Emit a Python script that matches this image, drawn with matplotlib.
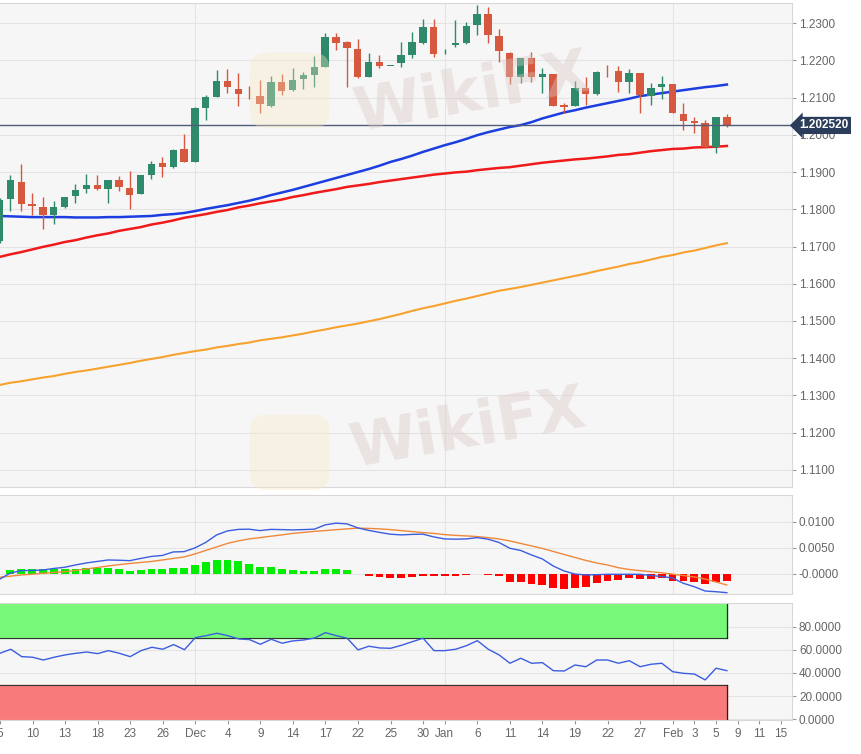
import matplotlib
matplotlib.use("Agg")
import matplotlib.pyplot as plt
import matplotlib.transforms as mtransforms
from matplotlib.patches import FancyBboxPatch
import numpy as np
import pandas as pd

plt.rcParams['font.family'] = ['Liberation Sans', 'DejaVu Sans']

# trading days shown on the axis (last candle is Feb 8)
days = pd.bdate_range("2020-11-05", "2021-02-15")

opens = [1.1715, 1.1828, 1.1873, 1.1813, 1.1806, 1.1785, 1.1806, 1.1836, 1.1854, 1.1865,
         1.1854, 1.1879, 1.1857, 1.1841, 1.1892, 1.1924, 1.1913, 1.1962, 1.1927, 1.2072,
         1.2101, 1.2144, 1.2123, 1.2108, 1.2104, 1.2077, 1.2142, 1.2120, 1.2150, 1.2160,
         1.2182, 1.2262, 1.2249, 1.2230, 1.2155, 1.2195, 1.2185, 1.2193, 1.2214, 1.2246,
         1.2289, 1.2217, 1.2241, 1.2246, 1.2295, 1.2324, 1.2265, 1.2219, 1.2155, 1.2206,
         1.2155, 1.2163, 1.2080, 1.2077, 1.2126, 1.2109, 1.2167, 1.2171, 1.2142, 1.2166,
         1.2104, 1.2128, 1.2136, 1.2056, 1.2037, 1.2032, 1.1967, 1.2048]
highs = [1.1830, 1.1892, 1.1921, 1.1844, 1.1833, 1.1822, 1.1833, 1.1868, 1.1895, 1.1892,
         1.1879, 1.1889, 1.1903, 1.1892, 1.1930, 1.1940, 1.1962, 1.2002, 1.2075, 1.2107,
         1.2174, 1.2177, 1.2166, 1.2131, 1.2147, 1.2158, 1.2163, 1.2179, 1.2168, 1.2211,
         1.2273, 1.2273, 1.2252, 1.2257, 1.2219, 1.2214, 1.2186, 1.2249, 1.2276, 1.2311,
         1.2311, 1.2230, 1.2308, 1.2303, 1.2348, 1.2343, 1.2284, 1.2222, 1.2206, 1.2222,
         1.2179, 1.2163, 1.2085, 1.2144, 1.2155, 1.2171, 1.2187, 1.2185, 1.2177, 1.2166,
         1.2139, 1.2158, 1.2136, 1.2085, 1.2048, 1.2040, 1.2048, 1.2056]
lows = [1.1710, 1.1795, 1.1795, 1.1785, 1.1747, 1.1760, 1.1803, 1.1817, 1.1844, 1.1852,
        1.1817, 1.1849, 1.1801, 1.1841, 1.1881, 1.1887, 1.1911, 1.1927, 1.1927, 1.2040,
        1.2101, 1.2112, 1.2077, 1.2096, 1.2058, 1.2075, 1.2107, 1.2117, 1.2123, 1.2128,
        1.2182, 1.2228, 1.2128, 1.2152, 1.2155, 1.2179, 1.2184, 1.2182, 1.2206, 1.2244,
        1.2209, 1.2216, 1.2236, 1.2244, 1.2268, 1.2246, 1.2195, 1.2136, 1.2139, 1.2142,
        1.2112, 1.2077, 1.2058, 1.2077, 1.2080, 1.2107, 1.2155, 1.2115, 1.2112, 1.2058,
        1.2080, 1.2096, 1.2058, 1.2013, 1.2005, 1.1964, 1.1951, 1.2021]
closes = [1.1825, 1.1879, 1.1814, 1.1810, 1.1785, 1.1806, 1.1833, 1.1852, 1.1865, 1.1854,
          1.1879, 1.1860, 1.1838, 1.1892, 1.1921, 1.1913, 1.1959, 1.1927, 1.2072, 1.2101,
          1.2144, 1.2128, 1.2109, 1.2106, 1.2083, 1.2142, 1.2117, 1.2147, 1.2160, 1.2182,
          1.2262, 1.2246, 1.2233, 1.2155, 1.2195, 1.2185, 1.2186, 1.2214, 1.2249, 1.2289,
          1.2217, 1.2218, 1.2246, 1.2292, 1.2324, 1.2268, 1.2225, 1.2155, 1.2206, 1.2155,
          1.2163, 1.2077, 1.2075, 1.2126, 1.2109, 1.2168, 1.2165, 1.2142, 1.2166, 1.2107,
          1.2126, 1.2136, 1.2058, 1.2037, 1.2032, 1.1967, 1.2048, 1.20252]

sma_blue = [1.1782, 1.1781, 1.1780, 1.1779, 1.1779, 1.1779, 1.1779, 1.1778, 1.1778, 1.1778,
            1.1779, 1.1779, 1.1780, 1.1781, 1.1782, 1.1785, 1.1787, 1.1790, 1.1795, 1.1801,
            1.1806, 1.1811, 1.1817, 1.1823, 1.1830, 1.1838, 1.1845, 1.1852, 1.1860, 1.1868,
            1.1876, 1.1884, 1.1892, 1.1900, 1.1908, 1.1917, 1.1927, 1.1935, 1.1944, 1.1954,
            1.1963, 1.1972, 1.1980, 1.1989, 1.1999, 1.2007, 1.2014, 1.2021, 1.2026, 1.2034,
            1.2044, 1.2052, 1.2060, 1.2066, 1.2073, 1.2079, 1.2085, 1.2091, 1.2097, 1.2104,
            1.2108, 1.2112, 1.2116, 1.2120, 1.2124, 1.2128, 1.2131, 1.2135]
sma_red = [1.1672, 1.1679, 1.1685, 1.1692, 1.1699, 1.1705, 1.1712, 1.1717, 1.1724, 1.1730,
           1.1735, 1.1742, 1.1747, 1.1752, 1.1759, 1.1764, 1.1770, 1.1777, 1.1782, 1.1787,
           1.1793, 1.1798, 1.1805, 1.1810, 1.1816, 1.1821, 1.1826, 1.1833, 1.1838, 1.1844,
           1.1849, 1.1854, 1.1860, 1.1864, 1.1868, 1.1873, 1.1877, 1.1881, 1.1885, 1.1889,
           1.1893, 1.1896, 1.1899, 1.1901, 1.1905, 1.1908, 1.1911, 1.1913, 1.1917, 1.1921,
           1.1925, 1.1928, 1.1931, 1.1934, 1.1936, 1.1939, 1.1942, 1.1946, 1.1948, 1.1952,
           1.1956, 1.1959, 1.1962, 1.1963, 1.1966, 1.1967, 1.1968, 1.1970]
sma_orange = [1.1328, 1.1334, 1.1338, 1.1343, 1.1348, 1.1352, 1.1358, 1.1363, 1.1367, 1.1372,
              1.1377, 1.1382, 1.1387, 1.1393, 1.1398, 1.1403, 1.1409, 1.1414, 1.1419, 1.1423,
              1.1429, 1.1433, 1.1438, 1.1442, 1.1448, 1.1452, 1.1456, 1.1461, 1.1466, 1.1472,
              1.1477, 1.1483, 1.1488, 1.1493, 1.1499, 1.1505, 1.1512, 1.1519, 1.1527, 1.1534,
              1.1540, 1.1547, 1.1554, 1.1560, 1.1567, 1.1574, 1.1581, 1.1586, 1.1591, 1.1597,
              1.1603, 1.1609, 1.1615, 1.1621, 1.1627, 1.1634, 1.1640, 1.1646, 1.1653, 1.1658,
              1.1665, 1.1672, 1.1677, 1.1684, 1.1689, 1.1696, 1.1703, 1.1709]

macd = [-0.00108, 0.00013, 0.00058, 0.00062, 0.00071, 0.00100, 0.00123, 0.00167, 0.00206, 0.00235,
        0.00263, 0.00258, 0.00250, 0.00292, 0.00331, 0.00350, 0.00417, 0.00423, 0.00494, 0.00600,
        0.00744, 0.00821, 0.00850, 0.00854, 0.00827, 0.00850, 0.00846, 0.00840, 0.00846, 0.00854,
        0.00937, 0.00969, 0.00956, 0.00879, 0.00831, 0.00792, 0.00758, 0.00744, 0.00754, 0.00758,
        0.00706, 0.00667, 0.00662, 0.00667, 0.00692, 0.00662, 0.00600, 0.00488, 0.00446, 0.00360,
        0.00283, 0.00148, 0.00052, -0.00006, -0.00025, -0.00019, -0.00012, -0.00012, -0.00012, -0.00012,
        -0.00035, -0.00054, -0.00083, -0.00185, -0.00250, -0.00333, -0.00346, -0.00365]
signal = [-0.00069, -0.00048, -0.00025, -0.00010, 0.00008, 0.00023, 0.00038, 0.00062, 0.00090, 0.00119,
          0.00148, 0.00173, 0.00196, 0.00215, 0.00235, 0.00263, 0.00292, 0.00321, 0.00379, 0.00446,
          0.00513, 0.00581, 0.00629, 0.00667, 0.00692, 0.00719, 0.00744, 0.00773, 0.00792, 0.00812,
          0.00827, 0.00844, 0.00860, 0.00873, 0.00869, 0.00860, 0.00846, 0.00827, 0.00808, 0.00788,
          0.00773, 0.00750, 0.00735, 0.00725, 0.00712, 0.00692, 0.00667, 0.00629, 0.00581, 0.00533,
          0.00485, 0.00427, 0.00369, 0.00312, 0.00254, 0.00206, 0.00167, 0.00115, 0.00081, 0.00058,
          0.00038, 0.00017, -0.00010, -0.00035, -0.00063, -0.00102, -0.00160, -0.00217]
hist = [-0.00010, 0.00071, 0.00090, 0.00096, 0.00083, 0.00083, 0.00083, 0.00090, 0.00103, 0.00109,
        0.00103, 0.00083, 0.00058, 0.00071, 0.00090, 0.00090, 0.00109, 0.00103, 0.00167, 0.00218,
        0.00263, 0.00269, 0.00237, 0.00186, 0.00135, 0.00122, 0.00090, 0.00077, 0.00058, 0.00058,
        0.00090, 0.00096, 0.00077, 0.00003, -0.00038, -0.00064, -0.00090, -0.00090, -0.00064, -0.00038,
        -0.00040, -0.00050, -0.00050, -0.00030, -0.00010, -0.00020, -0.00050, -0.00154, -0.00167, -0.00205,
        -0.00218, -0.00269, -0.00301, -0.00282, -0.00250, -0.00186, -0.00135, -0.00122, -0.00090, -0.00103,
        -0.00096, -0.00077, -0.00135, -0.00141, -0.00154, -0.00199, -0.00160, -0.00135]

rsi = [57.0, 60.5, 54.1, 53.6, 51.2, 53.6, 55.6, 57.0, 58.1, 56.7,
       59.3, 57.0, 54.1, 59.3, 62.2, 60.5, 64.5, 60.1, 70.5, 72.2,
       74.3, 72.2, 69.4, 68.8, 64.8, 69.1, 65.7, 67.7, 68.5, 70.2,
       74.8, 72.2, 70.0, 59.9, 63.1, 61.6, 61.3, 63.9, 67.0, 70.0,
       59.3, 59.3, 60.5, 63.6, 67.9, 60.5, 55.6, 48.4, 52.7, 48.4,
       48.9, 42.0, 41.7, 46.9, 45.4, 51.2, 51.2, 48.4, 50.6, 45.4,
       47.5, 48.4, 41.1, 39.7, 39.1, 34.0, 44.1, 42.0]

tick_dates = ["2020-11-05", "2020-11-10", "2020-11-13", "2020-11-18", "2020-11-23", "2020-11-26",
              "2020-12-01", "2020-12-04", "2020-12-09", "2020-12-14", "2020-12-17", "2020-12-22",
              "2020-12-25", "2020-12-30", "2021-01-01", "2021-01-06", "2021-01-11", "2021-01-14",
              "2021-01-19", "2021-01-22", "2021-01-27", "2021-02-01", "2021-02-03", "2021-02-05",
              "2021-02-09", "2021-02-11", "2021-02-15"]
tick_labels = ["5", "10", "13", "18", "23", "26", "Dec", "4", "9", "14", "17", "22", "25", "30",
               "Jan", "6", "11", "14", "19", "22", "27", "Feb", "3", "5", "9", "11", "15"]
month_starts = ["2020-12-01", "2021-01-01", "2021-02-01"]

price_ticks = [1.11, 1.12, 1.13, 1.14, 1.15, 1.16, 1.17, 1.18, 1.19, 1.20, 1.21, 1.22, 1.23]
macd_ticks = [0.0, 0.005, 0.01]
macd_labels = ["-0.0000", "0.0050", "0.0100"]
rsi_ticks = [0, 20, 40, 60, 80]

last_price = closes[-1]

# ---------------------------------------------------------------
x = np.arange(len(closes))
o = np.array(opens); h = np.array(highs); l = np.array(lows); c = np.array(closes)
up = c >= o
dn = ~up

col_up = '#2f8a6c'
col_dn = '#d5583f'
bg = '#f6f6f6'
grid_c = '#e4e4e4'
label_c = '#666666'

fig = plt.figure(figsize=(8.62, 7.54), dpi=100)
ax_p = fig.add_axes([0, 0.3541, 0.9188, 0.6419])
ax_m = fig.add_axes([0, 0.2122, 0.9188, 0.1313])
ax_r = fig.add_axes([0, 0.0451, 0.9188, 0.1556])

tick_pos = days.get_indexer(pd.to_datetime(tick_dates))
month_pos = days.get_indexer(pd.to_datetime(month_starts))

for ax in (ax_p, ax_m, ax_r):
    ax.set_facecolor(bg)
    ax.set_xlim(0.046, 73.0)
    ax.yaxis.tick_right()
    ax.tick_params(axis='y', length=3, width=0.8, color='#999999', labelcolor=label_c,
                   labelsize=8.5, pad=2)
    for s in ax.spines.values():
        s.set_color('#d8d8d8')
    ax.spines['left'].set_visible(False)
    ax.grid(axis='y', color=grid_c, linewidth=0.8)
    for m in month_pos:
        ax.axvline(m, color=grid_c, linewidth=0.8, zorder=0.5)
    ax.set_axisbelow(True)
    ax.set_xticks([])

# price panel
ax_p.plot(x, sma_orange, color='#f7a22e', linewidth=1.5, zorder=2)
ax_p.plot(x, sma_red, color='#f01a1a', linewidth=1.8, zorder=2)
ax_p.plot(x, sma_blue, color='#1c3ee0', linewidth=1.8, zorder=2)

body_w = 0.68
min_body = 0.00012
ax_p.vlines(x[up], l[up], h[up], color=col_up, linewidth=1, zorder=3)
ax_p.vlines(x[dn], l[dn], h[dn], color=col_dn, linewidth=1, zorder=3)
ax_p.bar(x[up], np.maximum(c[up] - o[up], min_body), bottom=o[up], width=body_w,
         color=col_up, zorder=4)
ax_p.bar(x[dn], np.maximum(o[dn] - c[dn], min_body), bottom=c[dn], width=body_w,
         color=col_dn, zorder=4)

ax_p.axhline(last_price, color='#4f5d78', linewidth=1, zorder=5)
ax_p.set_ylim(1.1054, 1.2354)
ax_p.set_yticks(price_ticks)
ax_p.set_yticklabels([f"{t:.4f}" for t in price_ticks])

trans = mtransforms.blended_transform_factory(ax_p.transAxes, ax_p.transData)
ax_p.text(1.009, last_price, f"{last_price:.6f}", transform=trans, ha='left', va='center',
          color='white', fontsize=8.5, fontweight='bold', clip_on=False, zorder=10,
          bbox=dict(boxstyle='larrow,pad=0.22', fc='#2b3d5b', ec='none'))

# MACD panel
hv = np.array(hist)
ax_m.bar(x[hv >= 0], hv[hv >= 0], width=0.72, color='#00ee00', zorder=2)
ax_m.bar(x[hv < 0], hv[hv < 0], width=0.72, color='#ff0000', zorder=2)
ax_m.plot(x, signal, color='#f0883a', linewidth=1, zorder=3)
ax_m.plot(x, macd, color='#3b5de0', linewidth=1, zorder=3)
ax_m.set_ylim(-0.0039, 0.0151)
ax_m.set_yticks(macd_ticks)
ax_m.set_yticklabels(macd_labels)

# RSI panel
band_x = [-1, x[-1]]
ax_r.fill_between(band_x, 70, 100, color='#78f878', zorder=1)
ax_r.fill_between(band_x, -1, 30, color='#f87a7a', zorder=1)
ax_r.plot(band_x, [70, 70], color='#333333', linewidth=0.8, zorder=2)
ax_r.plot(band_x, [30, 30], color='#333333', linewidth=0.8, zorder=2)
ax_r.plot([x[-1], x[-1]], [70, 100], color='#222222', linewidth=0.9, zorder=2)
ax_r.plot([x[-1], x[-1]], [-1, 30], color='#222222', linewidth=0.9, zorder=2)
ax_r.plot(x, rsi, color='#3b5de0', linewidth=1, zorder=3)
ax_r.set_ylim(-0.6, 100.7)
ax_r.set_yticks(rsi_ticks)
ax_r.set_yticklabels([f"{t:.4f}" for t in rsi_ticks])
ax_r.set_xticks(tick_pos)
ax_r.set_xticklabels(tick_labels)
ax_r.tick_params(axis='x', length=3, color='#999999', labelcolor=label_c, labelsize=8.5, pad=3)

# faint watermark
for (lx, ly, tx, ty, rot) in [(0.29, 0.83, 0.405, 0.875, 10), (0.29, 0.35, 0.40, 0.43, 10)]:
    fig.patches.append(FancyBboxPatch((lx, ly), 0.092, 0.10, boxstyle='round,pad=0,rounding_size=0.02',
                                      transform=fig.transFigure, fc='#f8e9c0', ec='none',
                                      alpha=0.35, zorder=6))
    fig.text(tx, ty, "WikiFX", fontsize=44, fontweight='bold', color='#d8c8c4', alpha=0.4,
             rotation=rot, ha='left', va='center', zorder=6, family='DejaVu Sans')

fig.savefig("out.png", dpi=100, facecolor='white')
